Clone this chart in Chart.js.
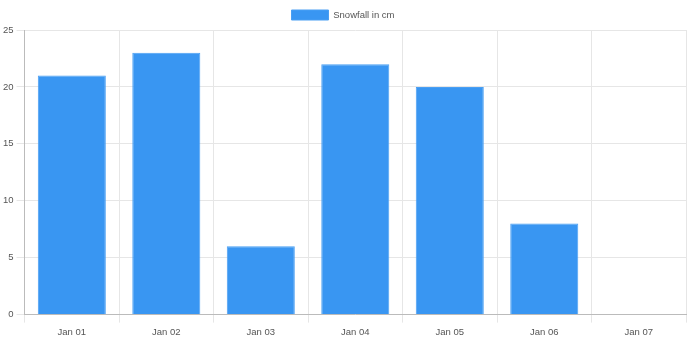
<!DOCTYPE html>
<html><head><meta charset="utf-8">
<script src="https://cdn.jsdelivr.net/npm/chart.js@4/dist/chart.umd.min.js"></script>
<style>html,body{margin:0;padding:0;background:#fff}#wrap{width:688px;height:344px}</style>
</head><body><div id="wrap"><canvas id="c"></canvas></div>
<script>
const categories = ["Jan 01","Jan 02","Jan 03","Jan 04","Jan 05","Jan 06","Jan 07"];
const snowfall = [21, 23, 6, 22, 20, 8, 0];
const seriesLabel = "Snowfall in cm";
Chart.defaults.font.family = "'Liberation Sans', Arial, sans-serif";
Chart.defaults.font.size = 9.5;
Chart.defaults.color = "#555";
new Chart(document.getElementById('c'), {
  type: 'bar',
  data: { labels: categories, datasets: [{ label: seriesLabel, data: snowfall,
    backgroundColor: '#3996f2', borderColor: '#4a9ff3', borderWidth: 1 }] },
  options: {
    responsive: true, maintainAspectRatio: false, animation: false,
    layout: { padding: { bottom: 2, right: 2 } },
    plugins: { legend: { labels: { boxWidth: 37, boxHeight: 10 } }, tooltip: { enabled: false } },
    scales: {
      y: { min: 0, max: 25, ticks: { stepSize: 5 }, grid: { color: '#e6e6e6' }, border: { color: '#bbb' } },
      x: { grid: { color: '#e6e6e6' }, border: { color: '#bbb' }, ticks: { padding: 4 } }
    }
  }
});
</script></body></html>
